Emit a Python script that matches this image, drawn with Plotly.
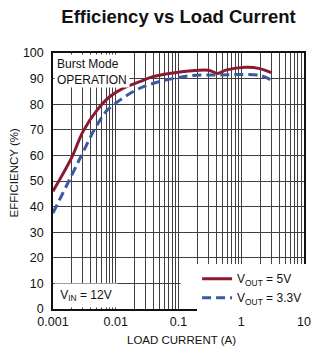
import plotly.graph_objects as go

# Efficiency vs load current, two output voltages (VIN = 12V)
load_5v = [0.001, 0.002, 0.003, 0.005, 0.008, 0.013, 0.024, 0.04,
           0.1, 0.3, 0.42, 0.57, 1.17, 1.9, 3.0]
eff_5v = [46.0, 59.3, 69.3, 77.6, 82.9, 86.2, 88.8, 90.8,
          92.5, 93.3, 92.0, 93.3, 94.4, 94.0, 92.3]

load_3v3 = [0.001, 0.002, 0.003, 0.0048, 0.0073, 0.0117, 0.021, 0.039,
            0.15, 0.45, 1.0, 2.1, 3.0]
eff_3v3 = [37.5, 52.4, 61.2, 71.0, 77.6, 81.6, 85.5, 88.1,
           91.1, 91.4, 91.6, 91.1, 89.4]

x_decades = [0.001, 0.01, 0.1, 1, 10]
x_decade_labels = ["0.001", "0.01", "0.1", "1", "10"]
y_ticks = list(range(0, 101, 10))

FONT = "Liberation Sans, Arial, sans-serif"
RED = "#8a1a32"
BLUE = "#3b58a3"
GRID = "#404040"

# gridlines at every 1..9 multiple, labels only on decades
x_tickvals, x_ticktext = [], []
for d, lab in zip(x_decades, x_decade_labels):
    for m in range(1, 10):
        v = d * m
        if v > x_decades[-1] * 1.0001:
            break
        x_tickvals.append(v)
        x_ticktext.append(lab if m == 1 else "")

fig = go.Figure()
fig.add_trace(go.Scatter(
    x=load_5v, y=eff_5v, mode="lines", name="V<sub>OUT</sub> = 5V",
    line=dict(color=RED, width=3, shape="spline", smoothing=1.0)))
fig.add_trace(go.Scatter(
    x=load_3v3, y=eff_3v3, mode="lines", name="V<sub>OUT</sub> = 3.3V",
    line=dict(color=BLUE, width=3, dash="9px,5px", shape="spline", smoothing=1.0)))

# white boxes behind the text blocks (they hide the grid there)
fig.add_annotation(xref="x domain", yref="y domain", x=0.004, y=0.996,
                   xanchor="left", yanchor="top", align="left", valign="top",
                   width=70, height=28, borderpad=2, bgcolor="white",
                   showarrow=False, text="Burst Mode<br>OPERATION",
                   font=dict(family=FONT, size=12, color="#111"))
fig.add_annotation(xref="x domain", yref="y domain", x=0.004, y=0.004,
                   xanchor="left", yanchor="bottom", align="center",
                   valign="middle", width=60, height=21, borderpad=1,
                   bgcolor="white", showarrow=False,
                   text="V<sub>IN</sub> = 12V",
                   font=dict(family=FONT, size=12, color="#111"))
# blank strip left of the legend so the legend panel reaches further left
fig.add_annotation(xref="x domain", yref="y domain", x=0.506, y=0.004,
                   xanchor="left", yanchor="bottom", width=17, height=40,
                   borderpad=0, bgcolor="white", showarrow=False, text="")

fig.add_annotation(xref="paper", yref="paper", x=-0.155, y=0.53,
                   xanchor="center", yanchor="middle", showarrow=False,
                   textangle=-90, text="EFFICIENCY (%)",
                   font=dict(family=FONT, size=11.5, color="#111"))
fig.add_annotation(xref="paper", yref="paper", x=0.51, y=-0.12,
                   xanchor="center", yanchor="middle", showarrow=False,
                   text="LOAD CURRENT (A)",
                   font=dict(family=FONT, size=11.5, color="#111"))

fig.update_xaxes(type="log", range=[-3, 1], tickvals=x_tickvals,
                 ticktext=x_ticktext, showgrid=True, gridcolor=GRID,
                 gridwidth=1, showline=True, linecolor="#111", linewidth=1.5,
                 mirror=True, ticks="", zeroline=False,
                 tickfont=dict(family=FONT, size=12.5, color="#111"))
fig.update_yaxes(range=[0, 100], tickvals=y_ticks, showgrid=True,
                 gridcolor=GRID, gridwidth=1, showline=True, linecolor="#111",
                 linewidth=1.5, mirror=True, ticks="", zeroline=False,
                 ticklabelstandoff=5,
                 tickfont=dict(family=FONT, size=12.5, color="#111"))

fig.update_layout(
    width=323, height=354,
    margin=dict(l=53, r=13, t=53, b=45),
    paper_bgcolor="white", plot_bgcolor="white",
    title=dict(text="<b>Efficiency vs Load Current</b>", xref="paper", x=0.5,
               xanchor="center", yref="container", y=1 - 17 / 354,
               yanchor="middle",
               font=dict(family=FONT, size=18.5, color="#111")),
    showlegend=True,
    legend=dict(xref="paper", yref="paper", x=0.574, y=0.175,
                xanchor="left", yanchor="top", bgcolor="white",
                borderwidth=0, tracegroupgap=0,
                font=dict(family=FONT, size=12, color="#111")),
)

fig.write_html("out.html")
